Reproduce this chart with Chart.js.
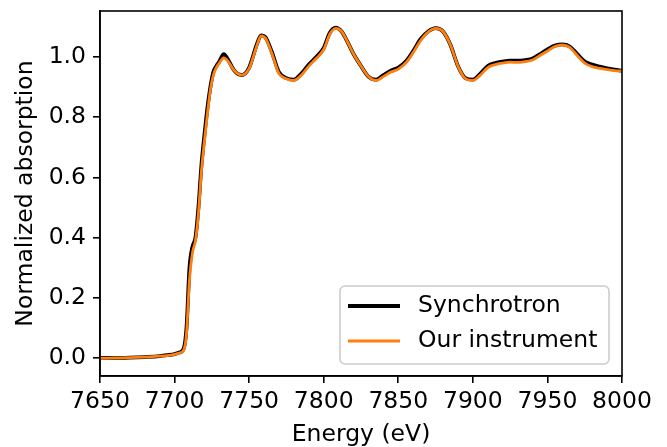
<!DOCTYPE html>
<html>
<head>
<meta charset="utf-8">
<script src="https://cdn.jsdelivr.net/npm/chart.js@4.4.0/dist/chart.umd.min.js"></script>
<style>
  html, body { margin: 0; padding: 0; background: #fff; }
  #wrap { width: 667px; height: 447px; position: relative; }
</style>
</head>
<body>
<div id="wrap"><canvas id="xasChart"></canvas></div>
<script>
// --- data ---
const energy = [7650, 7660, 7670, 7680, 7690, 7695, 7700, 7703, 7706, 7708, 7710, 7712, 7714, 7716, 7718, 7720,
    7722, 7724, 7726, 7728, 7730, 7733, 7736, 7740, 7745, 7750, 7755, 7758, 7761, 7765, 7770, 7775, 7780, 7785,
    7790, 7795, 7800, 7804, 7808, 7812, 7816, 7820, 7825, 7830, 7835, 7840, 7845, 7850, 7855, 7860, 7865, 7870,
    7875, 7880, 7885, 7890, 7895, 7900, 7905, 7910, 7915, 7920, 7925, 7930, 7935, 7940, 7945, 7950, 7955, 7960,
    7965, 7970, 7975, 7980, 7985, 7990, 7995, 8000];

const synchrotron = [0.000, 0.000, 0.001, 0.003, 0.006, 0.009, 0.013, 0.018, 0.030, 0.10, 0.30, 0.37, 0.40, 0.50,
    0.64, 0.74, 0.83, 0.90, 0.95, 0.97, 0.985, 1.010, 0.990, 0.955, 0.940, 0.965, 1.040, 1.072, 1.065, 1.020,
    0.950, 0.930, 0.925, 0.945, 0.975, 1.000, 1.030, 1.080, 1.098, 1.085, 1.050, 1.010, 0.970, 0.935, 0.925,
    0.940, 0.955, 0.965, 0.985, 1.020, 1.060, 1.085, 1.096, 1.085, 1.040, 0.970, 0.930, 0.925, 0.945, 0.970,
    0.980, 0.985, 0.988, 0.988, 0.990, 0.995, 1.010, 1.025, 1.038, 1.042, 1.035, 1.010, 0.985, 0.975, 0.968,
    0.962, 0.958, 0.955];

const ourInstrument = [-0.001, 0.000, 0.001, 0.003, 0.006, 0.008, 0.012, 0.016, 0.025, 0.08, 0.26, 0.35, 0.39,
    0.48, 0.62, 0.72, 0.81, 0.89, 0.94, 0.965, 0.980, 0.997, 0.985, 0.955, 0.940, 0.962, 1.035, 1.070, 1.062,
    1.015, 0.945, 0.928, 0.922, 0.940, 0.970, 0.995, 1.025, 1.075, 1.095, 1.085, 1.050, 1.010, 0.970, 0.935,
    0.922, 0.935, 0.950, 0.960, 0.980, 1.015, 1.055, 1.083, 1.095, 1.085, 1.040, 0.970, 0.928, 0.922, 0.940,
    0.965, 0.975, 0.980, 0.983, 0.982, 0.985, 0.990, 1.005, 1.020, 1.035, 1.040, 1.032, 1.005, 0.980, 0.968,
    0.962, 0.958, 0.955, 0.953];

const xTicks = [7650, 7700, 7750, 7800, 7850, 7900, 7950, 8000];
const yTicks = [0.0, 0.2, 0.4, 0.6, 0.8, 1.0];

const FONT = 'DejaVu Sans';
const FS = 23.5;

function toPoints(ys) {
    return energy.map(function (e, i) { return { x: e, y: ys[i] }; });
}

// frame on top/right + matplotlib-like legend box
const framePlugin = {
    id: 'frame',
    afterDraw: function (chart) {
        const c = chart.ctx, a = chart.chartArea;
        c.save();
        c.strokeStyle = '#000';
        c.lineWidth = 1.6;
        c.strokeRect(a.left, a.top, a.right - a.left, a.bottom - a.top);

        // legend
        const bx = 340, by = 286, bw = 269, bh = 78, r = 5;
        c.fillStyle = 'rgba(255,255,255,0.8)';
        c.strokeStyle = '#cccccc';
        c.lineWidth = 1.6;
        c.beginPath();
        c.roundRect(bx, by, bw, bh, r);
        c.fill();
        c.stroke();
        const rows = [306, 341];
        chart.data.datasets.forEach(function (ds, i) {
            c.strokeStyle = ds.borderColor;
            c.lineWidth = ds.borderWidth;
            c.beginPath();
            c.moveTo(348, rows[i]);
            c.lineTo(400, rows[i]);
            c.stroke();
            c.fillStyle = '#000';
            c.font = FS + 'px "' + FONT + '"';
            c.textBaseline = 'middle';
            c.fillText(ds.label, 418, rows[i]);
        });
        c.restore();
    }
};

const ctx = document.getElementById('xasChart');

new Chart(ctx, {
    type: 'line',
    data: {
        datasets: [
            {
                label: 'Synchrotron',
                data: toPoints(synchrotron),
                borderColor: '#000000',
                borderWidth: 3.8,
                pointRadius: 0,
                order: 2,
                cubicInterpolationMode: 'monotone',
                fill: false
            },
            {
                label: 'Our instrument',
                data: toPoints(ourInstrument),
                borderColor: '#ff7f0e',
                borderWidth: 2.8,
                pointRadius: 0,
                order: 1,
                cubicInterpolationMode: 'monotone',
                fill: false
            }
        ]
    },
    options: {
        responsive: true,
        maintainAspectRatio: false,
        animation: false,
        layout: { autoPadding: false, padding: { top: 11, right: 45, left: 0, bottom: 0 } },
        plugins: {
            legend: { display: false },
            tooltip: { enabled: false }
        },
        scales: {
            x: {
                type: 'linear',
                min: 7650,
                max: 8000,
                afterBuildTicks: function (s) { s.ticks = xTicks.map(function (v) { return { value: v }; }); },
                afterFit: function (s) { s.height = 71; },
                grid: { display: true, drawOnChartArea: false, drawTicks: true, tickLength: 7, color: '#000', lineWidth: 1.6 },
                border: { display: true, color: '#000', width: 1.6 },
                ticks: {
                    color: '#000',
                    padding: 5,
                    maxRotation: 0,
                    font: { family: FONT, size: FS },
                    callback: function (v) { return String(v); }
                },
                title: {
                    display: true,
                    text: 'Energy (eV)',
                    color: '#000',
                    font: { family: FONT, size: FS, lineHeight: 1 },
                    padding: { top: 0, bottom: 0 }
                }
            },
            y: {
                type: 'linear',
                min: -0.06,
                max: 1.153,
                afterBuildTicks: function (s) { s.ticks = yTicks.map(function (v) { return { value: v }; }); },
                afterFit: function (s) { s.width = 100; s.paddingTop = 0; s.paddingBottom = 0; },
                grid: { display: true, drawOnChartArea: false, drawTicks: true, tickLength: 7, color: '#000', lineWidth: 1.6 },
                border: { display: true, color: '#000', width: 1.6 },
                ticks: {
                    color: '#000',
                    padding: 7,
                    font: { family: FONT, size: FS },
                    callback: function (v) { return v.toFixed(1); }
                },
                title: {
                    display: true,
                    text: 'Normalized absorption',
                    color: '#000',
                    font: { family: FONT, size: FS, lineHeight: 1 },
                    padding: { top: 14, bottom: 0 }
                }
            }
        }
    },
    plugins: [framePlugin]
});
</script>
</body>
</html>
